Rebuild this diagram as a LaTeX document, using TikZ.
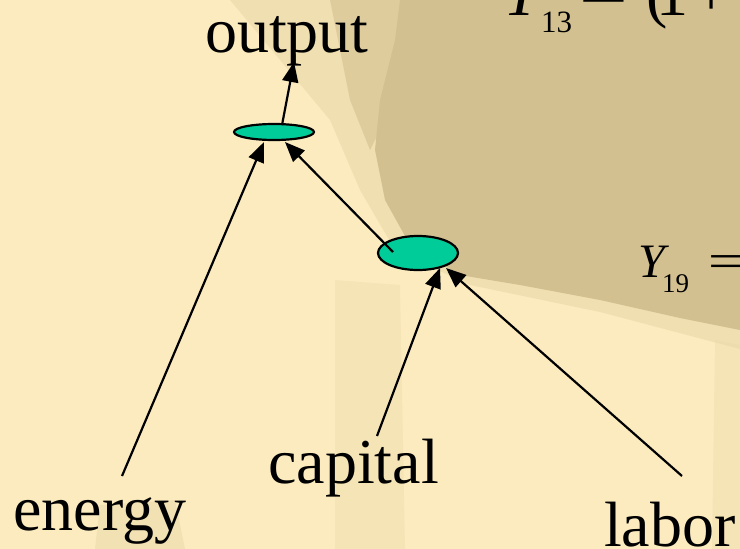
\documentclass[tikz,border=0pt]{standalone}
\usepackage{fontspec}
\setmainfont{Liberation Serif}
\usetikzlibrary{shapes.geometric,arrows.meta}
\definecolor{bglight}{HTML}{FBEBBF}
\definecolor{bgmid}{HTML}{EAD8A8}
\definecolor{bgdark}{HTML}{D3C090}
\definecolor{nodeteal}{HTML}{00CC99}
\begin{document}
\begin{tikzpicture}[x=1pt,y=-1pt]
\tikzset{
  lbl/.style={font=\fontsize{64}{70}\selectfont, inner sep=0pt, anchor=base west},
  frm/.style={inner sep=0pt, anchor=base west},
  blob/.style={ellipse, draw=black, line width=2.2pt, fill=nodeteal, inner sep=0pt, minimum width=80pt},
  link/.style={line width=2.2pt, -{Triangle[length=20pt,width=16pt]}},
  shade1/.style={fill=bgmid},
  shade2/.style={fill=bgdark},
}
% background
\fill[bglight] (0,0) rectangle (740,549);
\useasboundingbox (0,0) rectangle (740,549);
\fill[shade1, opacity=0.6] (230,0) -- (740,0) -- (740,349) -- (600,312) -- (470,285) -- (395,250)
  -- (360,190) -- (330,120) -- (280,60) -- cycle;
\fill[shade1, opacity=0.35] (335,280) -- (400,285) -- (405,549) -- (335,549) -- cycle;
\fill[shade1, opacity=0.5] (100,505) -- (175,500) -- (185,549) -- (95,549) -- cycle;
\fill[shade1, opacity=0.35] (715,340) -- (740,345) -- (740,549) -- (712,549) -- cycle;
\fill[shade2, opacity=0.6] (330,0) -- (420,0) -- (400,60) -- (385,120) -- (370,150) -- (350,100) -- cycle;
\fill[shade2] (400,0) -- (740,0) -- (740,330) -- (680,318) -- (600,300) -- (520,285)
  -- (460,275) -- (410,245) -- (385,200) -- (375,150) -- (380,100) -- (395,40) -- cycle;

% partial formulas
\node[frm, font=\fontsize{64}{70}\selectfont\itshape] (y13) at (503,15) {Y};
\node[frm, font=\fontsize{31}{36}\selectfont] (s13) at (541,32) {13};
\node[frm, font=\fontsize{64}{70}\selectfont] (e13) at (579,15) {\scalebox{1.35}[1]{=}};
\node[frm, font=\fontsize{64}{70}\selectfont] (p13) at (646,15) {(};
\node[frm, font=\fontsize{64}{70}\selectfont] (o13) at (656,15) {1};
\node[frm, font=\fontsize{64}{70}\selectfont] (plus13) at (693,15) {+};

\node[frm, font=\fontsize{48}{54}\selectfont\itshape] (y19) at (638,277) {Y};
\node[frm, font=\fontsize{27}{32}\selectfont] (s19) at (662,292) {19};
\node[frm, font=\fontsize{48}{54}\selectfont] (e19) at (708,277) {\scalebox{1.3}[1]{=}};

% labels
\node[lbl] (output) at (205,52) {output};
\node[lbl] (energy) at (13,530) {energy};
\node[lbl] (capital) at (268,483) {capital};
\node[lbl] (labor) at (604,546) {labor};

% nodes
\node[blob, minimum height=16pt] (top) at (274,132) {};
\node[blob, minimum height=34pt] (mid) at (418,253) {};

% connector ends
\coordinate (outtip) at (294,62);
\coordinate (topout) at (282,125);
\coordinate (topin1) at (264,142);
\coordinate (topin2) at (285,142);
\coordinate (midstart) at (393,252);
\coordinate (midin1) at (440,268);
\coordinate (midin2) at (446,268);
\coordinate (enstart) at (122,476);
\coordinate (capstart) at (377,436);
\coordinate (labstart) at (682,476);

% connectors
\draw[link] (topout) -- (outtip);
\draw[link] (enstart) -- (topin1);
\draw[link] (midstart) -- (topin2);
\draw[link] (capstart) -- (midin1);
\draw[link] (labstart) -- (midin2);
\end{tikzpicture}
\end{document}
